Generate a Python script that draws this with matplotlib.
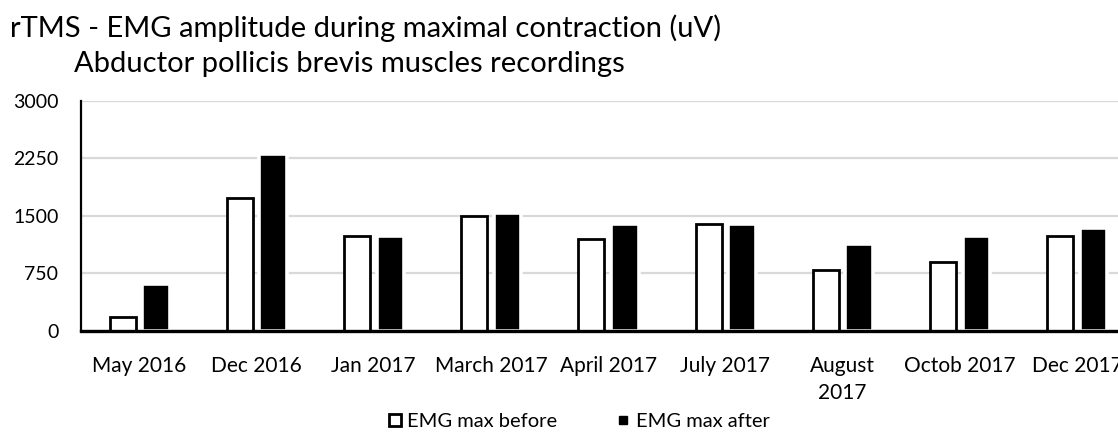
import matplotlib
matplotlib.use("Agg")
import matplotlib.pyplot as plt
from matplotlib.lines import Line2D
import numpy as np

plt.rcParams['font.family'] = ['Lato', 'DejaVu Sans']

categories = ["May 2016", "Dec 2016", "Jan 2017", "March 2017", "April 2017",
              "July 2017", "August\n2017", "Octob 2017", "Dec 2017"]
emg_before = [185, 1735, 1230, 1490, 1190, 1390, 790, 890, 1235]
emg_after = [610, 2300, 1235, 1535, 1390, 1390, 1135, 1240, 1335]
y_ticks = [0, 750, 1500, 2250, 3000]

W, H = 1118, 448
fig = plt.figure(figsize=(W / 100, H / 100), dpi=100)
ax = fig.add_axes([80.7 / W, 1 - 330.7 / H, (1135.5 - 80.7) / W, (330.7 - 100.7) / H])

x = np.arange(len(categories))
offset = 0.142
ax.bar(x - offset, emg_before, width=0.222, facecolor="white",
       edgecolor="black", linewidth=2.0, zorder=2)
ax.bar(x + offset, emg_after, width=0.235, facecolor="black",
       edgecolor="white", linewidth=2.6, zorder=2)

ax.set_xlim(-0.5, len(categories) - 0.5)
ax.set_ylim(0, 3000)
ax.set_yticks(y_ticks)
ax.set_yticklabels([str(v) for v in y_ticks])
ax.set_xticks(x)
ax.set_xticklabels(categories, linespacing=1.45)
ax.tick_params(axis="both", length=0, colors="black")
ax.tick_params(axis="y", pad=16, labelsize=14)
ax.tick_params(axis="x", pad=18, labelsize=15)

ax.set_axisbelow(True)
ax.yaxis.grid(True, color="#d9d9d9", linewidth=1.6)
ax.spines["top"].set_visible(False)
ax.spines["right"].set_visible(False)
ax.spines["left"].set_linewidth(1.6)
ax.spines["bottom"].set_linewidth(2.4)
ax.spines["bottom"].set_zorder(3)

fig.text(10 / W, 1 - 37 / H, "rTMS - EMG amplitude during maximal contraction (uV)",
         fontsize=21, ha="left", va="baseline", color="black")
fig.text(74 / W, 1 - 72 / H, "Abductor pollicis brevis muscles recordings",
         fontsize=21, ha="left", va="baseline", color="black")

handles = [
    Line2D([], [], linestyle="none", marker="s", markersize=8.5,
           markerfacecolor="white", markeredgecolor="black", markeredgewidth=2.0),
    Line2D([], [], linestyle="none", marker="s", markersize=6,
           markerfacecolor="black", markeredgecolor="black"),
]
fig.legend(handles, ["EMG max before", "EMG max after"], loc="center",
           bbox_to_anchor=(0.518, 1 - 421 / H), ncol=2, frameon=False,
           fontsize=14.5, handlelength=0.6, handletextpad=0.3, columnspacing=3.0)

fig.savefig("out.png", dpi=100)
